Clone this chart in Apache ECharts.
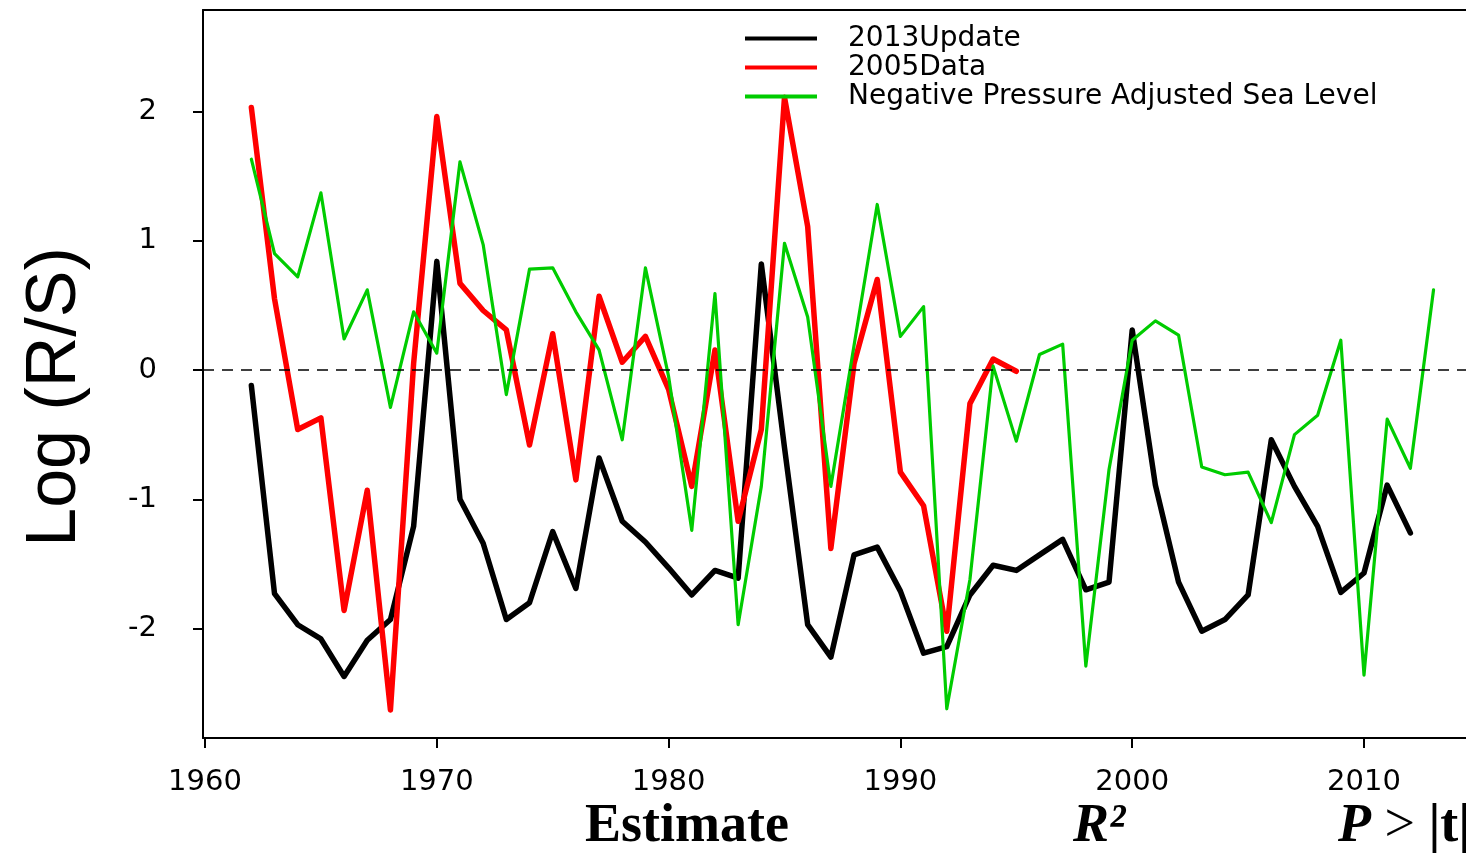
<!DOCTYPE html>
<html>
<head>
<meta charset="utf-8">
<script src="https://cdn.jsdelivr.net/npm/echarts@6/dist/echarts.min.js"></script>
<style>
html,body{margin:0;padding:0;background:#fff;}
#chart{width:1466px;height:854px;}
</style>
</head>
<body>
<div id="chart"></div>
<script>
// ---- data ----
const years2013 = [1962,1963,1964,1965,1966,1967,1968,1969,1970,1971,1972,1973,1974,1975,1976,1977,1978,1979,1980,1981,1982,1983,1984,1985,1986,1987,1988,1989,1990,1991,1992,1993,1994,1995,1996,1997,1998,1999,2000,2001,2002,2003,2004,2005,2006,2007,2008,2009,2010,2011,2012];
const update2013 = [-0.12,-1.73,-1.97,-2.08,-2.37,-2.09,-1.93,-1.21,0.84,-1.00,
  -1.34,-1.93,-1.80,-1.25,-1.69,-0.68,-1.17,-1.33,-1.53,-1.74,
  -1.55,-1.61,0.82,-0.60,-1.97,-2.22,-1.43,-1.37,-1.71,-2.19,
  -2.14,-1.74,-1.51,-1.55,-1.43,-1.31,-1.70,-1.64,0.31,-0.89,
  -1.64,-2.02,-1.93,-1.74,-0.54,-0.90,-1.21,-1.72,-1.57,-0.89,
  -1.26];

const years2005 = [1962,1963,1964,1965,1966,1967,1968,1969,1970,1971,1972,1973,1974,1975,1976,1977,1978,1979,1980,1981,1982,1983,1984,1985,1986,1987,1988,1989,1990,1991,1992,1993,1994,1995];
const data2005 = [2.03,0.55,-0.46,-0.37,-1.86,-0.93,-2.63,0.05,1.96,0.67,
  0.46,0.31,-0.58,0.28,-0.85,0.57,0.06,0.26,-0.15,-0.90,
  0.155,-1.17,-0.46,2.11,1.11,-1.38,0.05,0.70,-0.79,-1.05,
  -2.02,-0.26,0.085,-0.01];

const yearsNeg = [1962,1963,1964,1965,1966,1967,1968,1969,1970,1971,1972,1973,1974,1975,1976,1977,1978,1979,1980,1981,1982,1983,1984,1985,1986,1987,1988,1989,1990,1991,1992,1993,1994,1995,1996,1997,1998,1999,2000,2001,2002,2003,2004,2005,2006,2007,2008,2009,2010,2011,2012,2013];
const negPressure = [1.63,0.90,0.72,1.37,0.24,0.62,-0.29,0.45,0.13,1.61,
  0.97,-0.19,0.78,0.79,0.45,0.155,-0.54,0.79,-0.05,-1.24,
  0.59,-1.97,-0.90,0.98,0.41,-0.90,0.19,1.28,0.26,0.49,
  -2.62,-1.62,0.03,-0.55,0.12,0.20,-2.29,-0.77,0.23,0.38,
  0.27,-0.75,-0.81,-0.79,-1.18,-0.50,-0.35,0.23,-2.36,-0.38,
  -0.76,0.62];

const xTicks = [1960,1970,1980,1990,2000,2010];
const yTicks = [-2,-1,0,1,2];
const seriesNames = ['2013Update','2005Data','Negative Pressure Adjusted Sea Level'];
const footerLabels = ['Estimate','R²','P > |t|'];

const pairs = (xs, ys) => xs.map((x, i) => [x, ys[i]]);

const chart = echarts.init(document.getElementById('chart'), null, {renderer:'canvas'});
const axisFont = {fontFamily:'DejaVu Sans', fontSize:29, color:'#000'};
const X_MIN = 1959.914, X_MAX = 2014.40;
const frameLine = {show:true, onZero:false, lineStyle:{color:'#000', width:2}};

chart.setOption({
  animation:false,
  backgroundColor:'#fff',
  textStyle:{fontFamily:'DejaVu Sans', color:'#000'},
  grid:{left:203, top:10, right:0, height:728, show:false},
  legend:{
    orient:'vertical', left:745, top:24, padding:0, itemWidth:72, itemHeight:4, itemGap:0, icon:'rect',
    textStyle:{fontFamily:'DejaVu Sans', fontSize:28, color:'#000', lineHeight:29, padding:[0,0,0,26]},
    data:seriesNames
  },
  xAxis:[{
    type:'value', min:X_MIN, max:X_MAX, position:'bottom',
    splitLine:{show:false},
    axisLine:frameLine,
    axisTick:{show:true, inside:false, length:10, lineStyle:{color:'#000', width:2}, customValues:xTicks},
    axisLabel:Object.assign({customValues:xTicks, margin:30, formatter:v=>String(v)}, axisFont)
  },{
    type:'value', min:X_MIN, max:X_MAX, position:'top',
    splitLine:{show:false}, axisLine:frameLine,
    axisTick:{show:false}, axisLabel:{show:false}
  }],
  yAxis:{
    type:'value', min:-2.846, max:2.784,
    splitLine:{show:false},
    axisLine:frameLine,
    axisTick:{show:true, inside:false, length:10, lineStyle:{color:'#000', width:2}, customValues:yTicks},
    axisLabel:Object.assign({customValues:yTicks, margin:46, formatter:v=>String(v)}, axisFont),
    name:'Log (R/S)', nameLocation:'middle', nameGap:112,
    nameTextStyle:{fontFamily:'Liberation Sans', fontSize:70, color:'#000', padding:[0,46,0,0]}
  },
  series:[
    {name:seriesNames[0], type:'line', data:pairs(years2013, update2013), showSymbol:false, symbol:'none',
     lineStyle:{color:'#000', width:5.5, join:'round', cap:'round'}, itemStyle:{color:'#000'},
     markLine:{silent:true, symbol:'none', label:{show:false},
       lineStyle:{color:'#000', width:1.5, type:[11,8]}, data:[{yAxis:0}]}},
    {name:seriesNames[1], type:'line', data:pairs(years2005, data2005), showSymbol:false, symbol:'none',
     lineStyle:{color:'#ff0000', width:5.5, join:'round', cap:'round'}, itemStyle:{color:'#ff0000'}},
    {name:seriesNames[2], type:'line', data:pairs(yearsNeg, negPressure), showSymbol:false, symbol:'none',
     lineStyle:{color:'#00cc00', width:3.2, join:'round', cap:'round'}, itemStyle:{color:'#00cc00'}}
  ],
  graphic:[
    {type:'text', x:585, y:827, style:{text:footerLabels[0], font:'bold 54px "Liberation Serif"', fill:'#000', verticalAlign:'middle'}},
    {type:'text', x:1073, y:827, style:{text:footerLabels[1], font:'italic bold 54px "Liberation Serif"', fill:'#000', verticalAlign:'middle'}},
    {type:'text', x:1338, y:827, style:{text:'{a|P}{b| > }{c||t|}', fill:'#000', verticalAlign:'middle',
      rich:{a:{font:'italic bold 54px "Liberation Serif"'}, b:{font:'54px "Liberation Serif"'}, c:{font:'bold 54px "Liberation Serif"'}}}}
  ]
});
</script>
</body>
</html>
